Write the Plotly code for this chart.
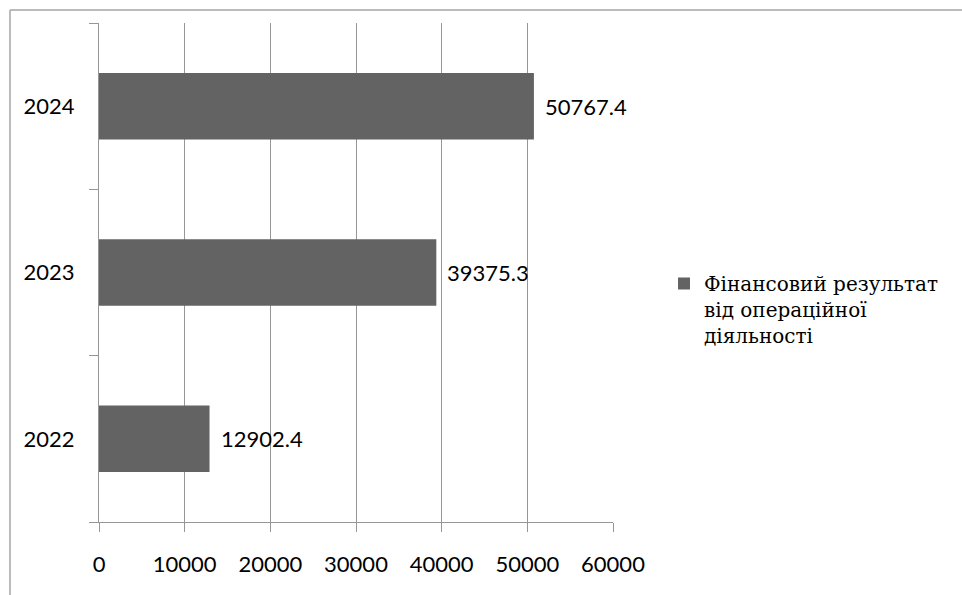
import plotly.graph_objects as go

# Operating financial result by year
years = ["2022", "2023", "2024"]
values = [12902.4, 39375.3, 50767.4]
series_name = "Фінансовий результат<br>від операційної<br>діяльності"
x_ticks = [0, 10000, 20000, 30000, 40000, 50000, 60000]

W, H = 962, 595
L, R, T, B = 99, 613, 23, 522  # plot area in pixels

def px_x(p):
    return (p - L) / (R - L)

def px_y(p):
    return (B - p) / (B - T)

fig = go.Figure()
fig.add_trace(go.Bar(
    y=years, x=values, orientation="h",
    name=series_name,
    marker=dict(color="#636363", line=dict(width=0)),
    width=0.4,
    showlegend=True,
))

# value labels beside each bar (category index as y position)
for i, v in enumerate(values):
    fig.add_annotation(
        x=v, y=i, xref="x", yref="y", text=f"{v:.1f}",
        showarrow=False, xanchor="left", yanchor="middle", xshift=9,
        font=dict(family="Lato", size=22, color="#000000"),
    )

# outer chart frame (top and left edges)
frame = dict(color="#a6a6a6", width=1.5)
fig.add_shape(type="line", xref="paper", yref="paper",
              x0=px_x(10), x1=px_x(W + 5), y0=px_y(10), y1=px_y(10), line=frame)
fig.add_shape(type="line", xref="paper", yref="paper",
              x0=px_x(10), x1=px_x(10), y0=px_y(10), y1=px_y(H + 5), line=frame)

fig.update_layout(
    width=W, height=H,
    margin=dict(l=L, r=W - R, t=T, b=H - B, pad=0),
    paper_bgcolor="white", plot_bgcolor="white",
    bargap=0.6,
    xaxis=dict(
        range=[0, 60000], tickvals=x_ticks, ticktext=[str(t) for t in x_ticks],
        showgrid=True, gridcolor="#969696", gridwidth=1,
        showline=True, linecolor="#969696", linewidth=1,
        ticks="outside", ticklen=9, tickcolor="#969696",
        zeroline=False, ticklabelstandoff=14,
        tickfont=dict(family="Lato", size=22, color="#000000"),
    ),
    yaxis=dict(
        type="category", categoryorder="array", categoryarray=years,
        range=[-0.5, 2.5],
        showgrid=False, showline=True, linecolor="#969696", linewidth=1,
        ticks="outside", ticklen=9, tickcolor="#969696", tickson="boundaries",
        ticklabelstandoff=19,
        tickfont=dict(family="Lato", size=22, color="#000000"),
    ),
    legend=dict(
        x=px_x(664), y=px_y(264), xanchor="left", yanchor="top",
        font=dict(family="DejaVu Serif", size=20, color="#000000"),
        itemwidth=30, valign="top", bgcolor="rgba(0,0,0,0)",
    ),
)

fig.write_html("out.html")
